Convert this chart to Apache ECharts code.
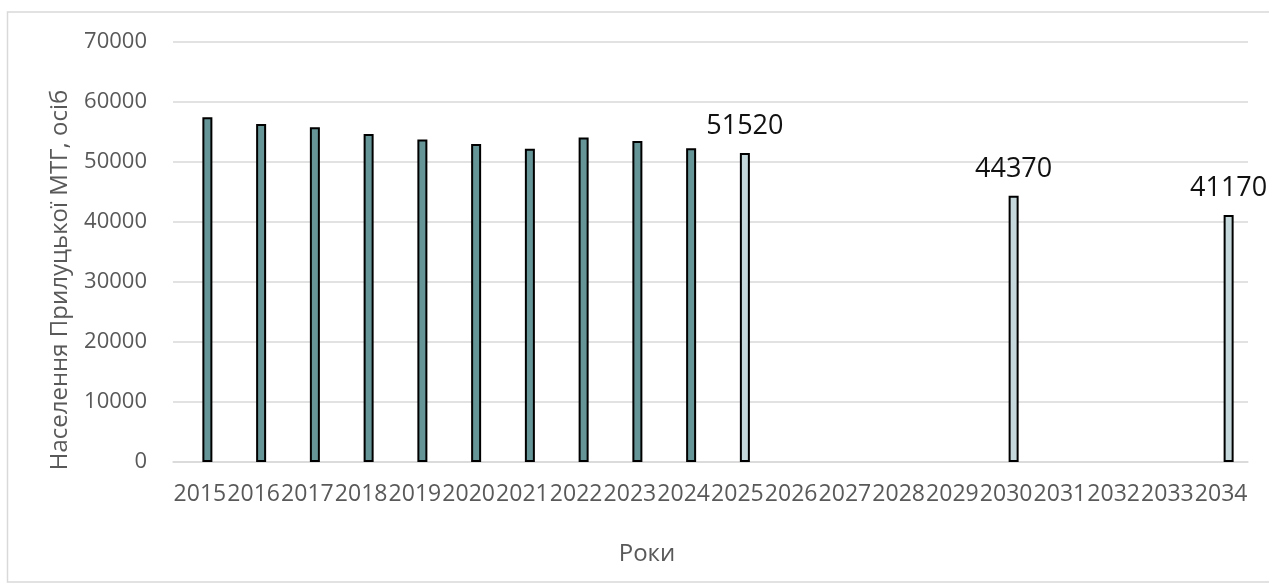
<!DOCTYPE html>
<html>
<head>
<meta charset="utf-8">
<script src="https://cdn.jsdelivr.net/npm/echarts@6/dist/echarts.min.js"></script>
<style>
html,body{margin:0;padding:0;background:#fff;}
#chart{width:1269px;height:583px;}
</style>
</head>
<body>
<div id="chart"></div>
<script>
const years = ['2015','2016','2017','2018','2019','2020','2021','2022','2023','2024','2025','2026','2027','2028','2029','2030','2031','2032','2033','2034'];
const historical = [57470, 56350, 55800, 54680, 53750, 53000, 52200, 54080, 53500, 52300, null, null, null, null, null, null, null, null, null, null];
const forecast = [null, null, null, null, null, null, null, null, null, null, 51520, null, null, null, null, 44370, null, null, null, 41170];
const spacer = years.map(() => null);
const yTicks = { min: 0, max: 70000, interval: 10000 };
const yTitle = 'Населення Прилуцької МТГ, осіб';
const xTitle = 'Роки';

const FONT = '"Open Sans", "Noto Sans", sans-serif';
const chart = echarts.init(document.getElementById('chart'), null, { renderer: 'canvas' });
chart.setOption({
  animation: false,
  backgroundColor: '#fff',
  textStyle: { fontFamily: FONT },
  grid: { left: 173, right: 21, top: 42, bottom: 121, containLabel: false },
  xAxis: {
    type: 'category',
    data: years,
    boundaryGap: true,
    axisLine: { lineStyle: { color: '#d9d9d9', width: 1.5 } },
    axisTick: { show: false },
    axisLabel: { interval: 0, color: '#595959', fontSize: 23, margin: 21, fontFamily: FONT }
  },
  yAxis: {
    type: 'value',
    min: yTicks.min, max: yTicks.max, interval: yTicks.interval,
    axisLine: { show: false },
    axisTick: { show: false },
    splitLine: { lineStyle: { color: '#d9d9d9', width: 1.5 } },
    axisLabel: { color: '#595959', fontSize: 22, margin: 26, fontFamily: FONT, formatter: v => String(v) }
  },
  series: [
    { name: 'spacer', type: 'bar', data: spacer, barWidth: 10, barGap: '50%', silent: true },
    {
      name: 'historical', type: 'bar', stack: 'pop', data: historical, barWidth: 10,
      itemStyle: { color: '#659597', borderColor: '#000', borderWidth: 2 }
    },
    {
      name: 'forecast', type: 'bar', stack: 'pop', data: forecast, barWidth: 10,
      itemStyle: { color: '#c5d8dc', borderColor: '#000', borderWidth: 2 },
      label: { show: true, position: 'top', distance: 13, color: '#111', fontSize: 27, fontFamily: FONT }
    }
  ],
  graphic: [
    { type: 'rect', z: -1, shape: { x: 7.5, y: 12, width: 1300, height: 570 }, style: { fill: 'none', stroke: '#d9d9d9', lineWidth: 1.5 } },
    { type: 'text', x: 60, y: 280, rotation: Math.PI / 2, style: { text: yTitle, fill: '#595959', font: '24px ' + FONT, textAlign: 'center', textVerticalAlign: 'middle' } },
    { type: 'text', x: 647, y: 554, style: { text: xTitle, fill: '#595959', font: '24px ' + FONT, textAlign: 'center', textVerticalAlign: 'middle' } }
  ]
});
</script>
</body>
</html>
